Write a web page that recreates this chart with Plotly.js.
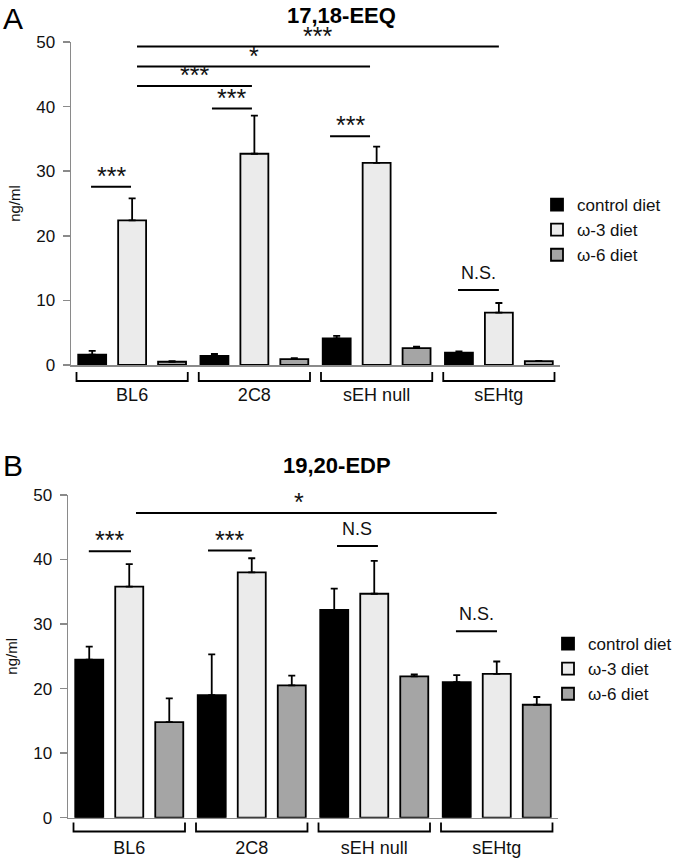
<!DOCTYPE html>
<html>
<head>
<meta charset="utf-8">
<script src="https://cdn.plot.ly/plotly-3.0.1.min.js"></script>
<style>html,body{margin:0;padding:0;background:#fff;}#chart{width:677px;height:858px;}</style>
</head>
<body>
<div id="chart"></div>
<script>
// ---------- data ----------
const groups = ['BL6', '2C8', 'sEH null', 'sEHtg'];
const dietNames = ['control diet', 'ω-3 diet', 'ω-6 diet'];

// Panel A: 17,18-EEQ (ng/ml)
const eeqControl    = [1.6, 1.4, 4.1, 1.9];
const eeqControlErr = [0.6, 0.3, 0.4, 0.2];
const eeqW3         = [22.4, 32.7, 31.3, 8.1];
const eeqW3Err      = [3.4, 5.9, 2.5, 1.5];
const eeqW6         = [0.5, 0.9, 2.6, 0.6];
const eeqW6Err      = [0.1, 0.15, 0.25, 0.05];

// Panel B: 19,20-EDP (ng/ml)
const edpControl    = [24.5, 19.0, 32.2, 21.0];
const edpControlErr = [2.0, 6.3, 3.3, 1.1];
const edpW3         = [35.8, 38.0, 34.7, 22.3];
const edpW3Err      = [3.5, 2.2, 5.1, 1.9];
const edpW6         = [14.8, 20.5, 21.9, 17.5];
const edpW6Err      = [3.7, 1.5, 0.3, 1.2];

// significance bars (x in category index units, y in ng/ml)
const sigAFrom  = [0.04, 0.04, 0.04, 0.653, -0.336, 1.619, 2.666];
const sigATo    = [3.0, 1.946, 0.98, 0.98, -0.009, 1.946, 3.0];
const sigAY     = [49.3, 46.2, 43.2, 39.7, 27.6, 35.4, 11.6];
const sigALabel = ['***', '*', '***', '***', '***', '***', 'N.S.'];

const sigBFrom  = [0.055, -0.33, 0.643, 1.696, 2.667];
const sigBTo    = [3.0, 0.014, 1.0, 2.03, 3.002];
const sigBY     = [47.2, 41.3, 41.4, 42.1, 28.9];
const sigBLabel = ['*', '***', '***', 'N.S', 'N.S.'];
const sigBLabelX = [1.386, null, null, null, null];

// ---------- styling ----------
const FONT = 'Liberation Sans, Arial, sans-serif';
const AXIS_GRAY = '#8a8a8a';
const TEXT = '#111';
const fills = ['#000000', '#ebebeb', '#a5a5a5'];

function barTrace(vals, errs, k, xa, ya, legendName) {
  return {
    type: 'bar', x: groups, y: vals, name: dietNames[k],
    xaxis: xa, yaxis: ya, legend: legendName, showlegend: true,
    marker: {color: fills[k], line: {color: '#000', width: 1.8}},
    error_y: {type: 'data', symmetric: false, array: errs,
              arrayminus: errs.map(() => 0), color: '#000', thickness: 1.8, width: 3.5},
    hoverinfo: 'none'
  };
}

const data = [
  barTrace(eeqControl, eeqControlErr, 0, 'x', 'y', 'legend'),
  barTrace(eeqW3, eeqW3Err, 1, 'x', 'y', 'legend'),
  barTrace(eeqW6, eeqW6Err, 2, 'x', 'y', 'legend'),
  barTrace(edpControl, edpControlErr, 0, 'x2', 'y2', 'legend2'),
  barTrace(edpW3, edpW3Err, 1, 'x2', 'y2', 'legend2'),
  barTrace(edpW6, edpW6Err, 2, 'x2', 'y2', 'legend2')
];

const shapes = [];
const annotations = [];

function addSig(from, to, ys, labels, labelX, xref, yref) {
  for (let i = 0; i < from.length; i++) {
    shapes.push({type: 'line', xref: xref, yref: yref, x0: from[i], x1: to[i], y0: ys[i], y1: ys[i],
                 line: {color: '#000', width: 2}});
    const isStar = labels[i].indexOf('*') >= 0;
    const lx = (labelX && labelX[i] != null) ? labelX[i] : (from[i] + to[i]) / 2;
    annotations.push({xref: xref, yref: yref, x: lx, y: ys[i], text: labels[i], showarrow: false,
                      xanchor: 'center', yanchor: 'bottom', yshift: isStar ? -5 : 5,
                      font: {family: FONT, size: isStar ? 25 : 18, color: TEXT}});
  }
}
addSig(sigAFrom, sigATo, sigAY, sigALabel, null, 'x', 'y');
addSig(sigBFrom, sigBTo, sigBY, sigBLabel, sigBLabelX, 'x2', 'y2');

// group brackets below each axis
function addBrackets(xref, yLow, yHigh) {
  for (let g = 0; g < groups.length; g++) {
    const a = g - 0.455, b = g + 0.455;
    shapes.push({type: 'path', xref: xref, yref: 'paper',
      path: 'M' + a + ',' + yHigh + ' L' + a + ',' + yLow + ' L' + b + ',' + yLow + ' L' + b + ',' + yHigh,
      line: {color: '#000', width: 1.8}});
  }
}
addBrackets('x', 1 - 381 / 858, 1 - 372 / 858);
addBrackets('x2', 1 - 831.5 / 858, 1 - 822.5 / 858);

// titles and panel letters
annotations.push({xref: 'paper', yref: 'paper', x: 341 / 677, y: 1 - 15 / 858, text: '<b>17,18-EEQ</b>',
  showarrow: false, xanchor: 'center', yanchor: 'middle', font: {family: FONT, size: 22, color: '#000'}});
annotations.push({xref: 'paper', yref: 'paper', x: 337 / 677, y: 1 - 465 / 858, text: '<b>19,20-EDP</b>',
  showarrow: false, xanchor: 'center', yanchor: 'middle', font: {family: FONT, size: 22, color: '#000'}});
annotations.push({xref: 'paper', yref: 'paper', x: 1 / 677, y: 1 - 19 / 858, text: 'A',
  showarrow: false, xanchor: 'left', yanchor: 'middle', font: {family: FONT, size: 30, color: '#000'}});
annotations.push({xref: 'paper', yref: 'paper', x: 1 / 677, y: 1 - 465 / 858, text: 'B',
  showarrow: false, xanchor: 'left', yanchor: 'middle', font: {family: FONT, size: 30, color: '#000'}});

function xAxis(domain, anchor) {
  return {domain: domain, anchor: anchor, type: 'category', range: [-0.5, 3.5],
          showline: true, linecolor: AXIS_GRAY, linewidth: 1.5, ticks: '', showgrid: false,
          zeroline: false, tickfont: {family: FONT, size: 18, color: TEXT},
          ticklabelstandoff: 13, fixedrange: true};
}
function yAxis(domain, anchor) {
  return {domain: domain, anchor: anchor, range: [0, 50], dtick: 10, tick0: 0,
          showline: true, linecolor: AXIS_GRAY, linewidth: 1.5, ticks: 'outside', ticklen: 7,
          tickcolor: AXIS_GRAY, tickwidth: 1.5, showgrid: false, zeroline: false,
          tickfont: {family: FONT, size: 17, color: TEXT}, ticklabelstandoff: 4,
          title: {text: 'ng/ml', font: {family: FONT, size: 15, color: TEXT}, standoff: 12},
          fixedrange: true};
}

const layout = {
  width: 677, height: 858,
  margin: {l: 0, r: 0, t: 0, b: 0},
  paper_bgcolor: '#fff', plot_bgcolor: '#fff',
  barmode: 'group', bargap: 0.02, bargroupgap: 0.3,
  font: {family: FONT, color: TEXT},
  xaxis: xAxis([71 / 677, 560 / 677], 'y'),
  yaxis: yAxis([1 - 365 / 858, 1 - 42 / 858], 'x'),
  xaxis2: xAxis([68 / 677, 558 / 677], 'y2'),
  yaxis2: yAxis([1 - 817.7 / 858, 1 - 495 / 858], 'x2'),
  legend: {x: 537 / 677, y: 1 - 187 / 858, xanchor: 'left', yanchor: 'top',
           font: {family: FONT, size: 17, color: TEXT}, bgcolor: 'rgba(0,0,0,0)', traceorder: 'normal'},
  legend2: {x: 548 / 677, y: 1 - 626 / 858, xanchor: 'left', yanchor: 'top',
            font: {family: FONT, size: 17, color: TEXT}, bgcolor: 'rgba(0,0,0,0)', traceorder: 'normal'},
  shapes: shapes,
  annotations: annotations
};

Plotly.newPlot('chart', data, layout, {displayModeBar: false, staticPlot: true});
</script>
</body>
</html>
